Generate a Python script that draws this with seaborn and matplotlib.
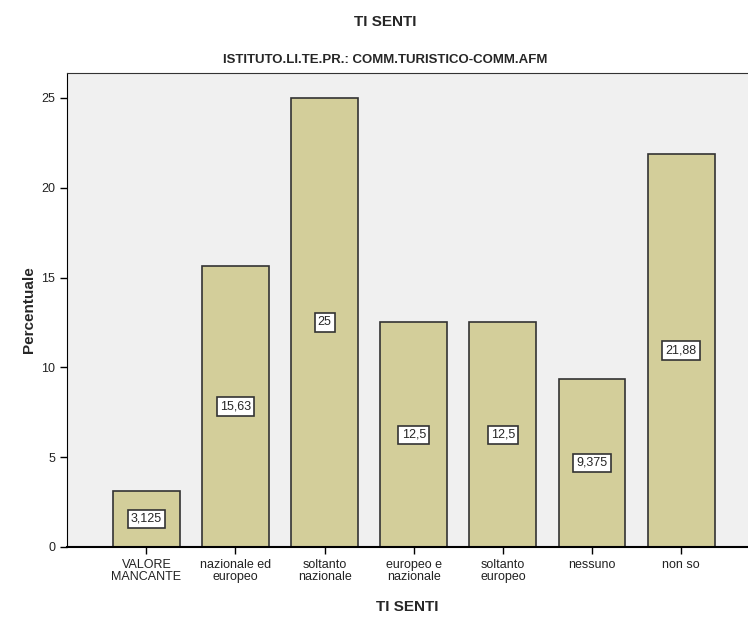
import pandas as pd
import seaborn as sns
import matplotlib.pyplot as plt

# Percentuali
categorie = ['VALORE\nMANCANTE', 'nazionale ed\neuropeo', 'soltanto\nnazionale',
             'europeo e\nnazionale', 'soltanto\neuropeo', 'nessuno', 'non so']
percentuali = [3.125, 15.63, 25, 12.5, 12.5, 9.375, 21.88]
etichette = ['3,125', '15,63', '25', '12,5', '12,5', '9,375', '21,88']

df = pd.DataFrame({'cat': categorie, 'perc': percentuali})

sns.set_style('white')
plt.rcParams['font.family'] = ['Liberation Sans', 'DejaVu Sans']

fig = plt.figure(figsize=(7.48, 6.17), dpi=100)
ax = fig.add_axes([0.0896, 0.1135, 0.9104, 0.7682])
ax.set_facecolor('#F0F0F0')

sns.barplot(data=df, x='cat', y='perc', color='#D3CE9A', saturation=1,
            width=0.75, edgecolor='#333333', linewidth=1.2, ax=ax)

for i, (v, lab) in enumerate(zip(percentuali, etichette)):
    ax.text(i, v / 2, lab, ha='center', va='center', fontsize=9,
            bbox=dict(boxstyle='square,pad=0.25', fc='white', ec='#333333', lw=1.2))

ax.set_xlim(-0.89, 6.75)
ax.set_ylim(0, 26.39)
ax.set_yticks([0, 5, 10, 15, 20, 25])
ax.tick_params(axis='both', which='both', length=5, width=1, color='black',
               labelsize=9, left=True, bottom=True, labelcolor='#222222')
for t in ax.get_xticklabels():
    t.set_linespacing(1.05)
ax.spines['right'].set_visible(False)
ax.spines['top'].set_color('#333333')
ax.spines['left'].set_color('black')
ax.spines['bottom'].set_color('black')
ax.spines['bottom'].set_linewidth(1.5)

ax.set_xlabel('TI SENTI', fontsize=11, fontweight='bold', labelpad=12)
ax.set_ylabel('Percentuale', fontsize=11, fontweight='bold')

fig.text(0.5155, 0.965, 'TI SENTI', ha='center', va='center', fontsize=11, fontweight='bold')
fig.text(0.5155, 0.902, 'ISTITUTO.LI.TE.PR.: COMM.TURISTICO-COMM.AFM', ha='center',
         va='center', fontsize=9.5, fontweight='bold')

plt.savefig('out.png')
